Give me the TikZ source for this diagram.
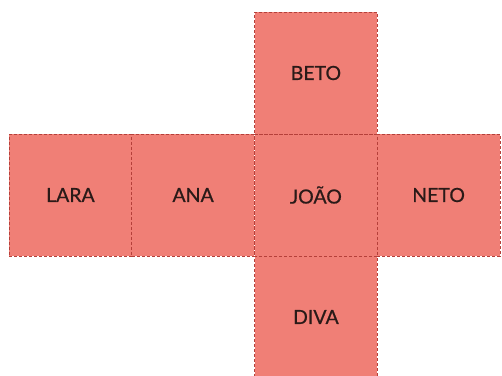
\documentclass[tikz,border=0pt]{standalone}
\usepackage{fontspec}
\setmainfont{Lato}
\newfontfamily\facefont{Lato}[FakeBold=0.6]
\definecolor{face}{HTML}{F07F76}
\definecolor{edge}{HTML}{B5403A}
\definecolor{ink}{HTML}{2A1A18}
\begin{document}
\begin{tikzpicture}[x=1pt,y=-1pt,
  facebox/.style={fill=face,draw=edge,densely dashed,line width=0.5pt,minimum width=122.75pt,minimum height=122pt,inner sep=0pt,outer sep=0pt,text=ink,font=\facefont\fontsize{19.5}{22}\selectfont},
]
\useasboundingbox (0,0) rectangle (502,375);
\begin{scope}
\clip (0,0) rectangle (502,375);
\node[facebox] (lara) at (70.4,195) {LARA};
\node[facebox] (ana) at (193.1,195) {ANA};
\node[facebox] (joao) at (315.9,195) {JOÃO};
\node[facebox] (neto) at (438.6,195) {NETO};
\node[facebox] (beto) at (315.9,73) {BETO};
\node[facebox] (diva) at (315.9,317) {DIVA};
\end{scope}
\end{tikzpicture}
\end{document}
